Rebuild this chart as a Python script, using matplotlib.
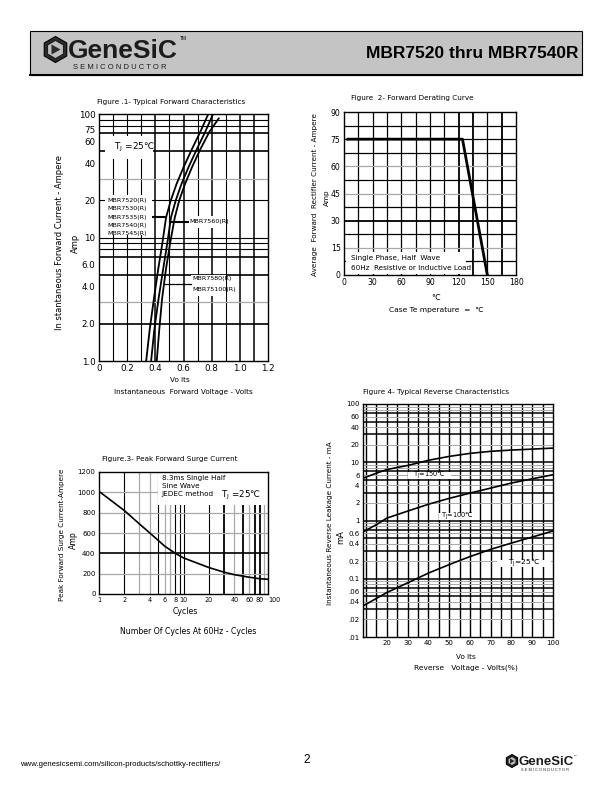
import numpy as np
import matplotlib.pyplot as plt
from matplotlib.patches import Rectangle, RegularPolygon, Polygon
from matplotlib.ticker import NullLocator

plt.rcParams['font.family'] = ['DejaVu Sans']

# Figure 1 - typical forward characteristics (volts vs amps)
fwd_amps = [1, 1.8, 3.2, 5.5, 9, 14.5, 20, 27, 37, 52, 72, 100]
fwd_v_7545 = [0.335, 0.36, 0.39, 0.42, 0.45, 0.476, 0.51, 0.55, 0.60, 0.66, 0.72, 0.776]
fwd_v_7560 = [0.37, 0.393, 0.423, 0.455, 0.485, 0.511, 0.545, 0.585, 0.635, 0.695, 0.755, 0.81]
fwd_amps_75100 = [1, 1.8, 3.2, 5.5, 9, 14.5, 20, 27, 37, 52, 72, 92]
fwd_v_75100 = [0.41, 0.428, 0.448, 0.475, 0.505, 0.538, 0.57, 0.61, 0.66, 0.72, 0.785, 0.85]
fwd_yticks = [1, 2, 4, 6, 10, 20, 40, 60, 75, 100]
fwd_ylabels = ["1.0", "2.0", "4.0", "6.0", "10", "20", "40", "60", "75", "100"]
fwd_xticks = [0, 0.2, 0.4, 0.6, 0.8, 1.0, 1.2]
fwd_xlabels = ["0", "0.2", "0.4", "0.6", "0.8", "1.0", "1.2"]

# Figure 2 - forward derating curve
derate_temp = [4, 124, 150]
derate_amps = [75, 75, 0]

# Figure 3 - peak forward surge current
surge_cycles = [1, 2, 3, 4, 6, 8, 10, 20, 30, 40, 60, 80, 100]
surge_amps = [1010, 820, 690, 600, 470, 400, 355, 260, 215, 190, 165, 150, 145]
surge_xticks = [1, 2, 4, 6, 8, 10, 20, 40, 60, 80, 100]

# Figure 4 - typical reverse characteristics
rev_pct = [9, 15, 20, 30, 40, 50, 60, 70, 80, 90, 100]
rev_150 = [5.4, 6.5, 7.5, 8.8, 10.8, 12.6, 14.2, 15.4, 16.2, 16.8, 17.5]
rev_100 = [0.65, 0.85, 1.1, 1.45, 1.9, 2.4, 2.95, 3.6, 4.4, 5.2, 6.1]
rev_25 = [0.035, 0.046, 0.058, 0.085, 0.125, 0.175, 0.24, 0.32, 0.41, 0.52, 0.66]
rev_yticks = [0.01, 0.02, 0.04, 0.06, 0.1, 0.2, 0.4, 0.6, 1, 2, 4, 6, 10, 20, 40, 60, 100]
rev_ylabels = [".01", ".02", ".04", ".06", "0.1", "0.2", "0.4", "0.6", "1", "2", "4", "6",
               "10", "20", "40", "60", "100"]

fig = plt.figure(figsize=(6.12, 7.92), dpi=100)

# page overlay in pixel coords
bg = fig.add_axes([0, 0, 1, 1])
bg.set_xlim(0, 612)
bg.set_ylim(792, 0)
bg.axis('off')


def px_axes(l, t, r, b):
    return fig.add_axes([l / 612, 1 - b / 792, (r - l) / 612, (b - t) / 792])


def draw_logo(x0, y0, s):
    bg.add_patch(RegularPolygon((x0, y0), 6, radius=13 * s, orientation=0,
                                facecolor='#2a2a2a', edgecolor='black', lw=0.8))
    bg.add_patch(RegularPolygon((x0, y0), 6, radius=9 * s, orientation=0,
                                facecolor='#bdbdbd', edgecolor='black', lw=0.5))
    bg.add_patch(Polygon([(x0 - 4 * s, y0 - 5 * s), (x0 + 5 * s, y0), (x0 - 4 * s, y0 + 5 * s)],
                         closed=True, facecolor='#2a2a2a'))
    bg.text(x0 + 12.5 * s, y0 + 8.5 * s, "GeneSiC", fontsize=19 * s, fontweight='bold',
            family='Liberation Sans', color='#1c1c1c', va='baseline', ha='left')
    bg.text(x0 + 124 * s, y0 - 11 * s, "TM", fontsize=3.5 * s, family='Liberation Sans',
            va='center', ha='left')
    bg.text(x0 + 17.5 * s, y0 + 18 * s, "S E M I C O N D U C T O R", fontsize=5.5 * s,
            family='Liberation Sans', va='center', ha='left', color='#1c1c1c')


# header
bg.add_patch(Rectangle((30, 31), 552, 44, facecolor='#c4c4c4', edgecolor='black', lw=0.8))
bg.plot([30, 582], [75, 75], color='black', lw=1.5)
draw_logo(55.5, 49.5, 1.0)
bg.text(578, 53, "MBR7520 thru MBR7540R", fontsize=12.5, fontweight='bold',
        family='Liberation Sans', ha='right', va='center')

# footer
bg.text(20, 764, "www.genesicsemi.com/silicon-products/schottky-rectifiers/", fontsize=5.6,
        family='Liberation Sans', va='center', ha='left')
bg.text(307, 760, "2", fontsize=8.5, family='Liberation Sans', va='center', ha='center')
draw_logo(512, 761, 0.5)


def grid_h(ax, y, dark=True, lw=0.9):
    ax.axhline(y, color='black' if dark else '#a8a8a8', lw=lw, zorder=1)


def grid_v(ax, x, dark=True, lw=0.9):
    ax.axvline(x, color='black' if dark else '#a8a8a8', lw=lw, zorder=1)


def style(ax, size):
    ax.tick_params(length=0, pad=2.5, labelsize=size)
    for sp in ax.spines.values():
        sp.set_linewidth(1.0)
        sp.set_zorder(5)


def white_box(ax, x0, x1, y0, y1):
    ax.add_patch(Rectangle((x0, y0), x1 - x0, y1 - y0, facecolor='white',
                           edgecolor='none', zorder=2))


# ---------------- Figure 1 ----------------
ax1 = px_axes(99, 114, 268, 361)
ax1.set_yscale('log')
ax1.set_xlim(0, 1.2)
ax1.set_ylim(1, 100)
for x in np.arange(0.1, 1.2, 0.1):
    grid_v(ax1, x, lw=1.1 if round(x * 10) in (4, 6, 8, 10, 11) else 0.8)
for y in [2, 5, 7, 8, 9, 10, 20, 50, 70, 80, 90]:
    grid_h(ax1, y, lw=1.2 if y in (2, 5, 7, 50, 70) else 0.8)
for y in [3, 30]:
    grid_h(ax1, y, dark=False)
white_box(ax1, 0.04, 0.385, 43, 66)
white_box(ax1, 0.045, 0.378, 10.5, 22)
white_box(ax1, 0.64, 0.9, 12.0, 15.0)
white_box(ax1, 0.655, 0.9, 3.35, 4.95)
ax1.plot(fwd_v_7545, fwd_amps, color='black', lw=1.3, zorder=4)
ax1.plot(fwd_v_7560, fwd_amps, color='black', lw=1.3, zorder=4)
ax1.plot(fwd_v_75100, fwd_amps_75100, color='black', lw=1.3, zorder=4)
ax1.text(0.11, 54, "T$_{\\rm J}$ =25\u2103", fontsize=6.5, va='center', zorder=3)
for i, name in enumerate(["MBR7520(R)", "MBR7530(R)", "MBR7535(R)", "MBR7540(R)", "MBR7545(R)"]):
    ax1.text(0.06, 10 ** (1.33 - i * 0.0675) * 0.93, name, fontsize=4.6, va='center', zorder=3)
ax1.plot([0.385, 0.476], [14.7, 14.7], color='black', lw=1.5, zorder=4)
ax1.plot([0.505, 0.635], [13.4, 13.4], color='black', lw=1.5, zorder=4)
ax1.text(0.645, 13.4, "MBR7560(R)", fontsize=4.6, va='center', zorder=3)
ax1.plot([0.46, 0.655], [4.2, 4.2], color='black', lw=0.9, zorder=4)
ax1.text(0.66, 4.65, "MBR7580(R)", fontsize=4.6, va='center', zorder=3)
ax1.text(0.66, 3.8, "MBR75100(R)", fontsize=4.6, va='center', zorder=3)
ax1.yaxis.set_minor_locator(NullLocator())
ax1.set_yticks(fwd_yticks)
ax1.set_yticklabels(fwd_ylabels)
ax1.set_xticks(fwd_xticks)
ax1.set_xticklabels(fwd_xlabels)
style(ax1, 6.3)
bg.text(97, 102, "Figure .1- Typical Forward Characteristics", fontsize=5.2, va='center')
bg.text(60, 243, "In stantaneous Forward Current - Ampere", fontsize=6, rotation=90,
        va='center', ha='center')
bg.text(75, 243, "Amp", fontsize=6, rotation=90, va='center', ha='center')
bg.text(180, 380, "Vo lts", fontsize=5.2, va='center', ha='center')
bg.text(183, 392, "Instantaneous  Forward Voltage - Volts", fontsize=5.2, va='center', ha='center')

# ---------------- Figure 2 ----------------
ax2 = px_axes(344, 112, 516, 275)
ax2.set_xlim(0, 180)
ax2.set_ylim(0, 90)
for x in range(15, 180, 15):
    grid_v(ax2, x, lw=1.3 if x in (120, 135, 165) else 0.9)
for y in np.arange(7.5, 90, 7.5):
    grid_h(ax2, y, dark=y not in (60, 45, 15), lw=1.3 if y == 30 else 0.9)
white_box(ax2, 2, 128, 0.8, 12.5)
ax2.plot(derate_temp, derate_amps, color='black', lw=2.0, zorder=4)
ax2.text(7, 9.4, "Single Phase, Half  Wave", fontsize=5.2, va='center', zorder=3)
ax2.text(7, 3.9, "60Hz  Resistive or Inductive Load", fontsize=5.2, va='center', zorder=3)
ax2.set_xticks(range(0, 181, 30))
ax2.set_yticks(range(0, 91, 15))
style(ax2, 5.6)
bg.text(351, 98, "Figure  2- Forward Derating Curve", fontsize=5.2, va='center')
bg.text(315, 195, "Average  Forward  Rectifier Current - Ampere", fontsize=5.2, rotation=90,
        va='center', ha='center')
bg.text(327, 198, "Amp", fontsize=5.2, rotation=90, va='center', ha='center')
bg.text(436, 298, "\u2103", fontsize=5.6, va='center', ha='center')
bg.text(436, 310, "Case Te mperature  =  \u2103", fontsize=5.4, va='center', ha='center')

# ---------------- Figure 3 ----------------
ax3 = px_axes(99, 472, 268, 594)
ax3.set_xscale('log')
ax3.set_xlim(1, 100)
ax3.set_ylim(0, 1200)
for x in [2, 5, 8, 9, 10, 20, 30, 50, 70, 80]:
    grid_v(ax3, x, lw=1.3 if x in (30, 50, 70, 80) else 0.8)
for x in [3, 4, 6, 7, 40, 60, 90]:
    grid_v(ax3, x, dark=False)
for y in [200, 600, 800, 1000]:
    grid_h(ax3, y, dark=False)
grid_h(ax3, 400, lw=1.2)
white_box(ax3, 5.0, 100, 880, 1200)
ax3.plot(surge_cycles, surge_amps, color='black', lw=1.2, zorder=4)
ax3.text(5.5, 1144, "8.3ms Single Half", fontsize=5.2, va='center', zorder=3)
ax3.text(5.5, 1062, "Sine Wave", fontsize=5.2, va='center', zorder=3)
ax3.text(5.5, 980, "JEDEC method", fontsize=5.2, va='center', zorder=3)
ax3.text(28, 972, "T$_{\\rm J}$ =25\u2103", fontsize=6.3, va='center', zorder=3)
ax3.xaxis.set_minor_locator(NullLocator())
ax3.set_xticks(surge_xticks)
ax3.set_xticklabels([str(v) for v in surge_xticks])
ax3.set_yticks(range(0, 1201, 200))
style(ax3, 5.0)
ax3.tick_params(axis='x', labelsize=4.7)
ax3.get_xticklabels()[-1].set_ha('left')
bg.text(102, 459, "Figure.3- Peak Forward Surge Current", fontsize=5.2, va='center')
bg.text(62, 535, "Peak Forward Surge Current-Ampere", fontsize=5.2, rotation=90,
        va='center', ha='center')
bg.text(73, 540, "Amp", fontsize=5.6, rotation=90, va='center', ha='center')
bg.text(185, 612, "Cycles", fontsize=5.6, va='center', ha='center')
bg.text(188, 631, "Number Of Cycles At 60Hz - Cycles", fontsize=5.6, va='center', ha='center')

# ---------------- Figure 4 ----------------
ax4 = px_axes(363, 404, 553, 637)
ax4.set_yscale('log')
ax4.set_xlim(8.5, 100)
ax4.set_ylim(0.01, 100)
for x in range(10, 100, 5):
    grid_v(ax4, x, lw=1.0)
for dec in [0.01, 0.1, 1, 10]:
    for m in range(2, 10):
        grid_h(ax4, m * dec, dark=m in (3, 5, 7), lw=1.1 if m in (3, 5, 7) else 0.7)
    if dec > 0.01:
        grid_h(ax4, dec, lw=1.1)
white_box(ax4, 30, 51, 5.1, 6.8)
white_box(ax4, 45, 63, 1.04, 1.35)
white_box(ax4, 73, 99, 0.162, 0.214)
ax4.plot(rev_pct, rev_150, color='black', lw=1.2, zorder=4)
ax4.plot(rev_pct, rev_100, color='black', lw=1.2, zorder=4)
ax4.plot(rev_pct, rev_25, color='black', lw=1.2, zorder=4)
ax4.text(40.5, 5.9, "T$_{\\rm J}$=150\u2103", fontsize=4.8, va='center', ha='center', zorder=3)
ax4.text(54, 1.18, "T$_{\\rm J}$=100\u2103", fontsize=4.8, va='center', ha='center', zorder=3)
ax4.text(86, 0.186, "T$_{\\rm J}$=25\u2103", fontsize=5.4, va='center', ha='center', zorder=3)
ax4.yaxis.set_minor_locator(NullLocator())
ax4.set_yticks(rev_yticks)
ax4.set_yticklabels(rev_ylabels)
ax4.set_xticks(range(20, 101, 10))
style(ax4, 5.0)
bg.text(363, 392, "Figure 4- Typical Reverse Characteristics", fontsize=5.2, va='center')
bg.text(330, 523, "Instantaneous Reverse Leakage Current - mA", fontsize=5.2, rotation=90,
        va='center', ha='center')
bg.text(341, 537, "mA", fontsize=6, rotation=90, va='center', ha='center')
bg.text(466, 657, "Vo lts", fontsize=5.2, va='center', ha='center')
bg.text(466, 668, "Reverse   Voltage - Volts(%)", fontsize=5.4, va='center', ha='center')

fig.savefig("out.png", dpi=100)
